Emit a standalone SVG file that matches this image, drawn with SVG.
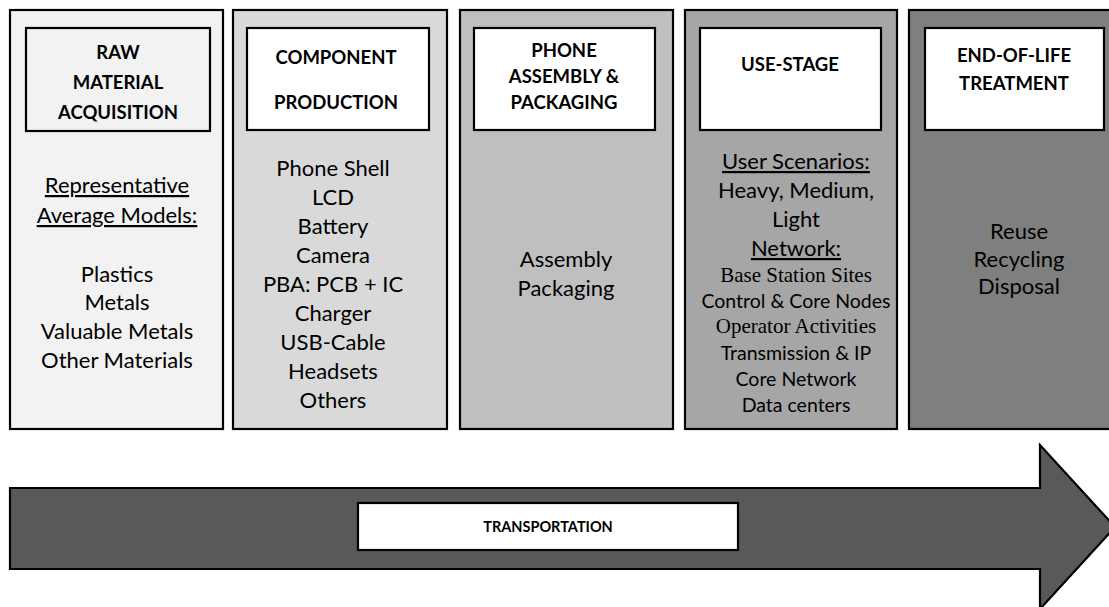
<svg xmlns="http://www.w3.org/2000/svg" width="1109" height="607" viewBox="0 0 1109 607">
  <style>
    .outer { stroke: #000; stroke-width: 2.2; }
    .inner { stroke: #000; stroke-width: 2.2; fill: #fff; }
    .hdr { font-family: Lato, "Open Sans", sans-serif; font-weight: bold; font-size: 18.5px; fill: #000; text-anchor: middle; }
    .body { font-family: Lato, "Open Sans", sans-serif; font-size: 22px; fill: #000; text-anchor: middle; }
    .net { font-family: Lato, "Open Sans", sans-serif; font-size: 19.5px; fill: #000; text-anchor: middle; }
    .ser { font-family: "Liberation Serif", "Times New Roman", serif; font-size: 21px; fill: #000; text-anchor: middle; }
    .u { text-decoration: underline; }
  </style>
  <rect width="1109" height="607" fill="#fff"/>

  <g id="raw-material">
    <rect class="outer" x="10" y="10" width="213" height="419" fill="#f2f2f2"/>
    <rect class="inner" x="26" y="28" width="184" height="103" style="fill:#f2f2f2"/>
    <text class="hdr" x="118" y="59">RAW</text>
    <text class="hdr" x="118" y="89">MATERIAL</text>
    <text class="hdr" x="118" y="119">ACQUISITION</text>
    <text class="body u" x="117" y="193">Representative</text>
    <text class="body u" x="117" y="223">Average Models:</text>
    <text class="body" x="117" y="282">Plastics</text>
    <text class="body" x="117" y="310">Metals</text>
    <text class="body" x="117" y="339">Valuable Metals</text>
    <text class="body" x="117" y="368">Other Materials</text>
  </g>

  <g id="component-production">
    <rect class="outer" x="233" y="10" width="214" height="419" fill="#d9d9d9"/>
    <rect class="inner" x="247" y="28" width="182" height="102"/>
    <text class="hdr" x="336" y="64">COMPONENT</text>
    <text class="hdr" x="336" y="109">PRODUCTION</text>
    <text class="body" x="333" y="176">Phone Shell</text>
    <text class="body" x="333" y="205">LCD</text>
    <text class="body" x="333" y="234">Battery</text>
    <text class="body" x="333" y="263">Camera</text>
    <text class="body" x="333" y="292">PBA: PCB + IC</text>
    <text class="body" x="333" y="321">Charger</text>
    <text class="body" x="333" y="350">USB-Cable</text>
    <text class="body" x="333" y="379">Headsets</text>
    <text class="body" x="333" y="408">Others</text>
  </g>

  <g id="phone-assembly">
    <rect class="outer" x="460" y="10" width="213" height="419" fill="#bfbfbf"/>
    <rect class="inner" x="474" y="28" width="181" height="102"/>
    <text class="hdr" x="564" y="57">PHONE</text>
    <text class="hdr" x="564" y="83">ASSEMBLY &amp;</text>
    <text class="hdr" x="564" y="109">PACKAGING</text>
    <text class="body" x="566" y="267">Assembly</text>
    <text class="body" x="566" y="296">Packaging</text>
  </g>

  <g id="use-stage">
    <rect class="outer" x="685" y="10" width="212" height="419" fill="#a6a6a6"/>
    <rect class="inner" x="700" y="28" width="181" height="102"/>
    <text class="hdr" x="790" y="71">USE-STAGE</text>
    <text class="body u" x="796" y="169">User Scenarios:</text>
    <text class="body" x="796" y="198">Heavy, Medium,</text>
    <text class="body" x="796" y="227">Light</text>
    <text class="body u" x="796" y="256">Network:</text>
    <text class="ser" x="796" y="282">Base Station Sites</text>
    <text class="net" x="796" y="308">Control &amp; Core Nodes</text>
    <text class="ser" x="796" y="333">Operator Activities</text>
    <text class="net" x="796" y="360">Transmission &amp; IP</text>
    <text class="net" x="796" y="386">Core Network</text>
    <text class="net" x="796" y="412">Data centers</text>
  </g>

  <g id="end-of-life">
    <rect class="outer" x="909" y="10" width="220" height="419" fill="#7f7f7f"/>
    <rect class="inner" x="925" y="28" width="179" height="102"/>
    <text class="hdr" x="1014" y="62">END-OF-LIFE</text>
    <text class="hdr" x="1014" y="90">TREATMENT</text>
    <text class="body" x="1019" y="239">Reuse</text>
    <text class="body" x="1019" y="267">Recycling</text>
    <text class="body" x="1019" y="294">Disposal</text>
  </g>

  <g id="connectors">
    <g id="transportation">
      <polygon points="10,488 1040,488 1040,445 1115,527 1040,609 1040,569 10,569" fill="#595959" stroke="#000" stroke-width="2.2"/>
      <rect class="inner" x="358" y="503" width="380" height="47"/>
      <text class="hdr" x="548" y="532" style="font-size:14.5px">TRANSPORTATION</text>
    </g>
  </g>
</svg>
